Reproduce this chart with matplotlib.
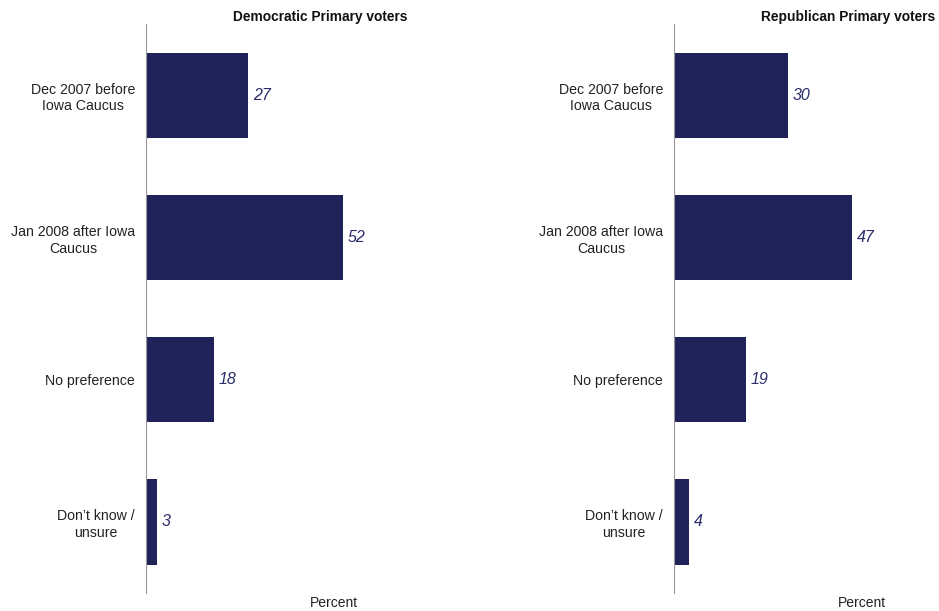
import matplotlib.pyplot as plt

plt.rcParams['font.family'] = ['Liberation Sans', 'DejaVu Sans']

categories = ['Dec 2007 before\nIowa Caucus', 'Jan 2008 after Iowa\nCaucus',
              'No preference', 'Don\u2019t know /\nunsure']
dem_values = [27, 52, 18, 3]
rep_values = [30, 47, 19, 4]
titles = ['Democratic Primary voters', 'Republican Primary voters']

bar_color = '#20225a'
text_color = '#222222'

fig = plt.figure(figsize=(9.39, 6.11), dpi=100)
ax1 = fig.add_axes([0.1555, 0.0295, 0.278, 0.931])
ax2 = fig.add_axes([0.7178, 0.0295, 0.278, 0.931])

for ax, values, title in zip([ax1, ax2], [dem_values, rep_values], titles):
    ypos = range(len(categories))
    ax.barh(ypos, values, height=0.6, color=bar_color)
    ax.set_ylim(3.5, -0.5)
    ax.set_xlim(0, 68.9)
    for y, v in zip(ypos, values):
        ax.text(v + 1.2, y, str(v), va='center', ha='left', fontsize=11.5,
                style='italic', color='#2b2d6b')
    ax.set_yticks(list(ypos))
    ax.set_yticklabels(categories, fontsize=10.2, ha='right', multialignment='center',
                       color=text_color, linespacing=1.25)
    ax.tick_params(axis='y', length=0, pad=8)
    ax.set_xticks([])
    for s in ['top', 'right', 'bottom']:
        ax.spines[s].set_visible(False)
    ax.spines['left'].set_color('#999999')
    ax.spines['left'].set_linewidth(0.8)
    ax.set_title(title, fontsize=9.9, fontweight='bold', loc='right', pad=1, color='#111111')
    ax.set_xlabel('Percent', fontsize=10, color=text_color)
    ax.xaxis.set_label_coords(0.72, -0.005)
    ax.xaxis.label.set_va('top')

fig.savefig('out.png', dpi=100)
